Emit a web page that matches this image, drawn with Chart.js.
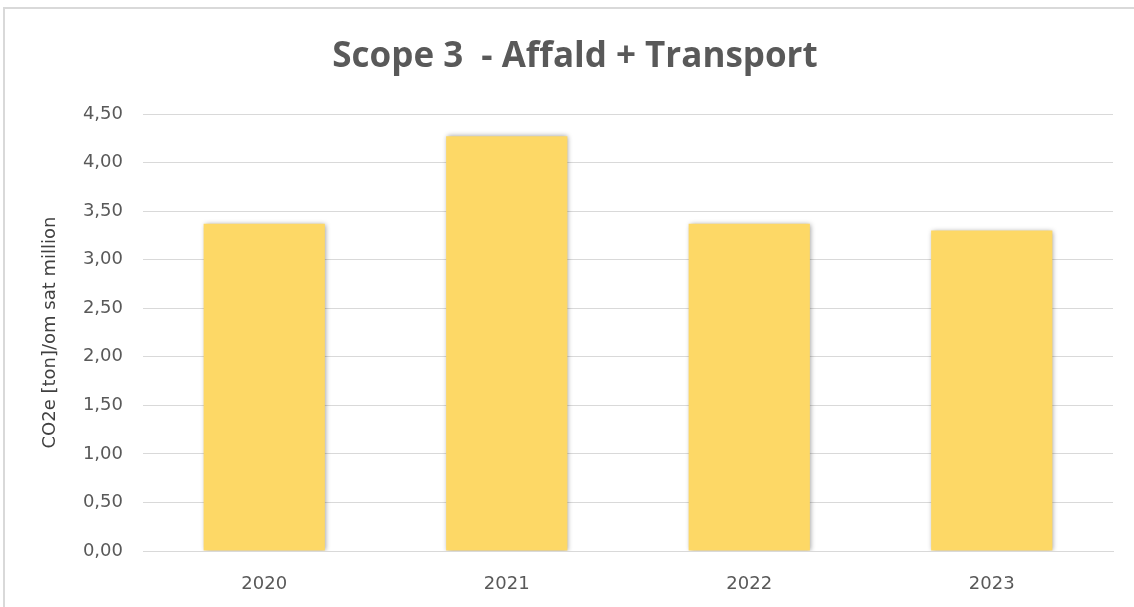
<!DOCTYPE html>
<html>
<head>
<meta charset="utf-8">
<script src="https://cdn.jsdelivr.net/npm/chart.js@4"></script>
<style>
    html, body {
        margin: 0;
        padding: 0;
        background: #ffffff;
        overflow: hidden;
    }
    #frame {
        position: absolute;
        left: 3px;
        top: 7px;
        width: 2000px;
        height: 2000px;
        border: 2px solid #d9d9d9;
    }
    #wrap {
        position: absolute;
        left: 0;
        top: 0;
        width: 1134px;
        height: 607px;
    }
</style>
</head>
<body>
<div id="frame"></div>
<div id="wrap">
    <canvas id="scopeChart"></canvas>
</div>
<script>
// data
let years = [
    "2020",
    "2021",
    "2022",
    "2023"
];

let values = [
    3.37,
    4.27,
    3.37,
    3.30
];

let chartTitle = "Scope 3  - Affald + Transport";
let axisTitle = "CO2e [ton]/om sat million";

// soft shadow behind the bars, like the office chart
let barShadow = {
    id: "barShadow",
    beforeDatasetsDraw(chart)
    {
        let ctx = chart.ctx;
        ctx.save();
        ctx.shadowColor = "rgba(0,0,0,0.4)";
        ctx.shadowBlur = 5;
        ctx.shadowOffsetX = 1;
        ctx.shadowOffsetY = 0;
    },
    afterDatasetsDraw(chart)
    {
        chart.ctx.restore();
    }
};

function commaNumber(v)
{
    return Number(v).toFixed(2).replace(".", ",");
}

let tickFont = {
    family: "'DejaVu Sans', sans-serif",
    size: 18
};

new Chart(
    document.getElementById(
        "scopeChart"
    ),
    {
        type: "bar",

        data: {
            labels: years,

            datasets: [{
                label: "Scope 3",
                data: values,
                backgroundColor: "#fdd866",
                borderWidth: 0,
                barPercentage: 0.5,
                categoryPercentage: 1
            }]
        },

        options: {
            responsive: true,
            maintainAspectRatio: false,
            animation: false,
            layout: {
                padding: {
                    left: 37,
                    right: 21,
                    top: 0,
                    bottom: 0
                }
            },
            plugins: {
                legend: {
                    display: false
                },
                tooltip: {
                    enabled: false
                },
                title: {
                    display: true,
                    text: chartTitle,
                    color: "#595959",
                    font: {
                        family: "'Open Sans', sans-serif",
                        size: 35,
                        weight: "bold"
                    },
                    padding: {
                        top: 36,
                        bottom: 36
                    }
                }
            },
            scales: {
                x: {
                    grid: {
                        display: false
                    },
                    border: {
                        display: true,
                        color: "#d9d9d9",
                        width: 1
                    },
                    ticks: {
                        color: "#595959",
                        padding: 15,
                        font: tickFont
                    },
                    afterFit(s)
                    {
                        s.height = 56;
                    }
                },
                y: {
                    min: 0,
                    max: 4.5,
                    grid: {
                        color: "#d9d9d9",
                        lineWidth: 1,
                        drawTicks: false
                    },
                    border: {
                        display: false
                    },
                    ticks: {
                        stepSize: 0.5,
                        color: "#595959",
                        padding: 20,
                        font: tickFont,
                        callback: function(v)
                        {
                            return commaNumber(v);
                        }
                    },
                    title: {
                        display: true,
                        text: axisTitle,
                        color: "#404040",
                        padding: {
                            top: 3,
                            bottom: 0
                        },
                        font: {
                            family: "'DejaVu Sans', sans-serif",
                            size: 18
                        }
                    },
                    afterFit(s)
                    {
                        s.width = 106;
                    }
                }
            }
        },

        plugins: [barShadow]
    }
);
</script>
</body>
</html>
